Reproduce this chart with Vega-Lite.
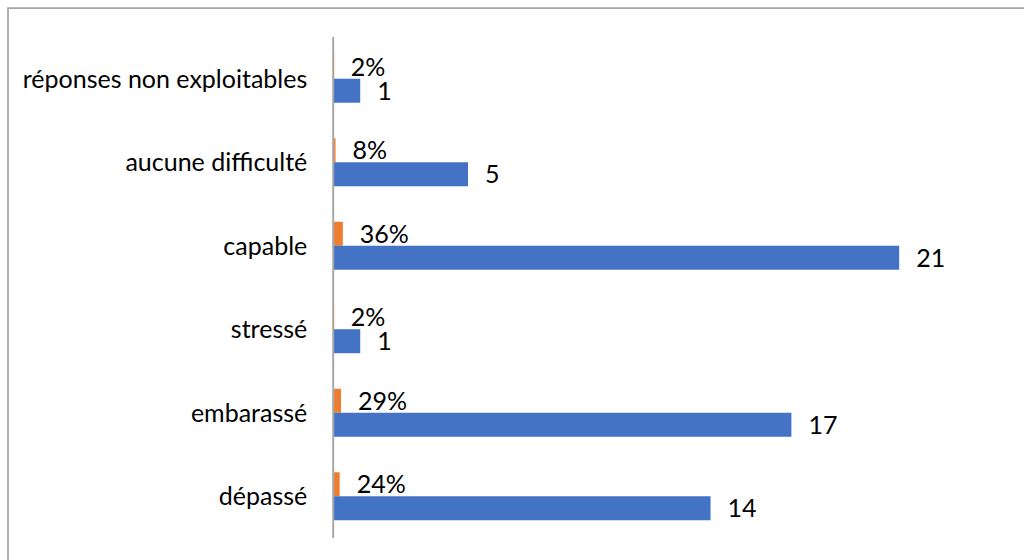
{
  "$schema": "https://vega.github.io/schema/vega-lite/v6.json",
  "autosize": {"type": "fit", "contains": "padding"},
  "width": 1024,
  "height": 560,
  "padding": {"left": 8, "top": 8, "right": -4, "bottom": -4},
  "background": "white",
  "config": {
    "view": {"stroke": "#a6a6a6", "strokeWidth": 1.75},
    "font": "Lato"
  },
  "data": {
    "values": [
      {"cat": "réponses non exploitables", "series": "pct", "value": 0.0169},
      {"cat": "réponses non exploitables", "series": "count", "value": 1},
      {"cat": "aucune difficulté", "series": "pct", "value": 0.0847},
      {"cat": "aucune difficulté", "series": "count", "value": 5},
      {"cat": "capable", "series": "pct", "value": 0.3559},
      {"cat": "capable", "series": "count", "value": 21},
      {"cat": "stressé", "series": "pct", "value": 0.0169},
      {"cat": "stressé", "series": "count", "value": 1},
      {"cat": "embarassé", "series": "pct", "value": 0.2881},
      {"cat": "embarassé", "series": "count", "value": 17},
      {"cat": "dépassé", "series": "pct", "value": 0.2373},
      {"cat": "dépassé", "series": "count", "value": 14}
    ]
  },
  "encoding": {
    "y": {
      "field": "cat",
      "type": "nominal",
      "sort": null,
      "axis": null,
      "scale": {"paddingInner": 0, "paddingOuter": 0.3293, "align": 0.527}
    }
  },
  "layer": [
    {
      "mark": {"type": "bar", "color": "#a6a6a6"},
      "encoding": {
        "x": {"datum": -0.03, "type": "quantitative", "scale": {"domain": [-12.07, 25.78], "nice": false, "zero": false}, "axis": null},
        "x2": {"datum": 0.03}
      }
    },
    {
      "mark": {"type": "bar"},
      "encoding": {
        "x": {"field": "value", "type": "quantitative"},
        "x2": {"datum": 0.03},
        "yOffset": {"field": "series", "type": "nominal", "sort": ["pct", "count"], "scale": {"paddingInner": 0, "paddingOuter": 0.74}},
        "color": {"field": "series", "type": "nominal", "scale": {"domain": ["pct", "count"], "range": ["#ED7D31", "#4472C4"]}, "legend": null}
      }
    },
    {
      "transform": [{"filter": "datum.series === 'pct'"}],
      "mark": {"type": "text", "align": "left", "baseline": "middle", "dx": 17, "dy": 1, "fontSize": 25, "color": "#000000"},
      "encoding": {
        "x": {"field": "value", "type": "quantitative"},
        "yOffset": {"field": "series", "type": "nominal", "sort": ["pct", "count"]},
        "text": {"field": "value", "type": "quantitative", "format": ".0%"}
      }
    },
    {
      "transform": [{"filter": "datum.series === 'count'"}],
      "mark": {"type": "text", "align": "left", "baseline": "middle", "dx": 17, "dy": 1, "fontSize": 25, "color": "#000000"},
      "encoding": {
        "x": {"field": "value", "type": "quantitative"},
        "yOffset": {"field": "series", "type": "nominal", "sort": ["pct", "count"]},
        "text": {"field": "value", "type": "quantitative", "format": "d"}
      }
    },
    {
      "transform": [{"filter": "datum.series === 'count'"}],
      "mark": {"type": "text", "align": "right", "baseline": "middle", "dx": -26, "dy": 1, "fontSize": 25, "color": "#000000"},
      "encoding": {
        "x": {"datum": 0, "type": "quantitative"},
        "text": {"field": "cat", "type": "nominal"}
      }
    }
  ]
}
